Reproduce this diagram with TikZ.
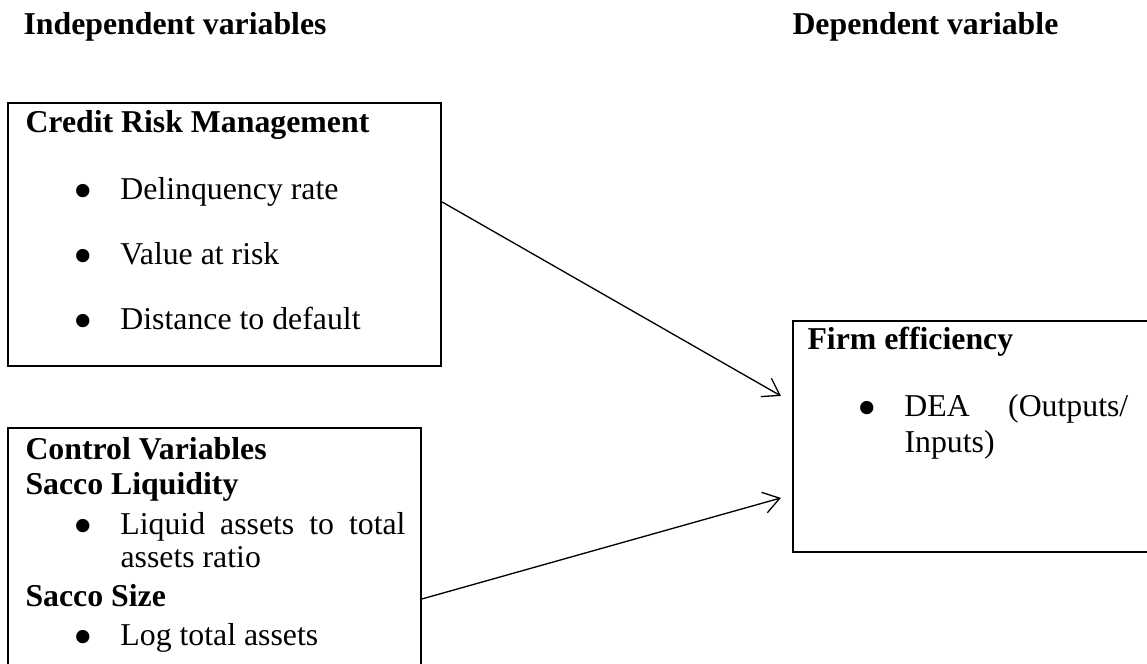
\documentclass[tikz,border=0pt]{standalone}
\usepackage{fontspec}
\usepackage{graphicx}
\setmainfont{Liberation Serif}
\usetikzlibrary{arrows.meta,positioning,fit,calc}
\newcommand{\bul}[1]{\makebox[17.7pt][l]{\raisebox{-3.6pt}{\scalebox{1.75}{\textbullet}}}#1}

\begin{document}
\begin{tikzpicture}[
  x=0.3774pt, y=-0.3774pt,
  font=\fontsize{12pt}{13.8pt}\selectfont,
  box/.style={draw, line width=0.8pt, inner sep=0pt},
  txt/.style={inner sep=0pt, anchor=base west},
  hdr/.style={txt, font=\fontsize{12pt}{13.8pt}\selectfont\bfseries},
  arr/.style={-{Straight Barb[length=6pt,width=8pt]}, line width=0.5pt}
]
\useasboundingbox (0,0) rectangle (1147,664);
\clip (0,0) rectangle (1147,664);
\node[hdr] (indep) at (23,35) {Independent variables};
\node[hdr] (dep) at (792,35) {Dependent variable};

\node[box, fit={(8,103) (441,366)}] (crm) {};
\node[hdr] (crmtitle) at (25,133) {Credit Risk Management};
\node[txt] (delinq) at (73,200) {\bul{Delinquency rate}};
\node[txt] (var) at (73,265) {\bul{Value at risk}};
\node[txt] (dtd) at (73,330) {\bul{Distance to default}};

\node[box, fit={(8,428) (421,690)}] (ctrl) {};
\node[hdr] (ctrltitle) at (25,460) {Control Variables};
\node[hdr] (liqtitle) at (25,495) {Sacco Liquidity};
\node[txt] (liq) at (73,535) {\bul{\makebox[107.6pt][s]{Liquid assets to total}}};
\node[txt] (liq2) at (120,568) {assets ratio};
\node[hdr] (sizetitle) at (25,607) {Sacco Size};
\node[txt] (size) at (73,646) {\bul{Log total assets}};

\node[box, fit={(793,321) (1170,552)}] (firm) {};
\node[hdr] (firmtitle) at (807,350) {Firm efficiency};
\node[txt] (dea) at (857,417) {\bul{\makebox[84.5pt][s]{DEA (Outputs/}}};
\node[txt] (dea2) at (904,453) {Inputs)};

\draw[arr] ($(crm.north east)+(0,100)$) -- ($(firm.north west)+(-11,76)$);
\draw[arr] ($(ctrl.north east)+(0,172)$) -- ($(firm.north west)+(-11,178)$);
\end{tikzpicture}
\end{document}
